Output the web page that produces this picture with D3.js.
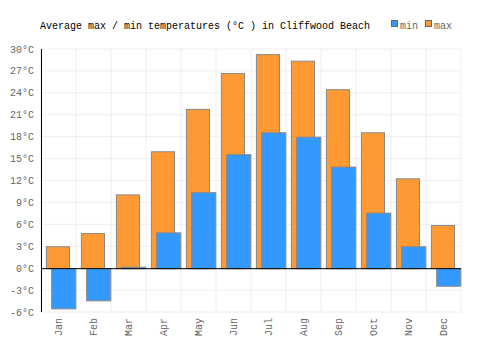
<!DOCTYPE html>
<html>
<head>
<meta charset="utf-8">
<script src="https://cdn.jsdelivr.net/npm/d3@7"></script>
<style>
  body { margin: 0; background: #fff; }
  text { font-family: "Liberation Mono", monospace; }
</style>
</head>
<body>
<div class="chart"></div>
<script>
const months = ['Jan','Feb','Mar','Apr','May','Jun','Jul','Aug','Sep','Oct','Nov','Dec']
const maxTemp = [3.0, 4.8, 10.1, 16.0, 21.8, 26.7, 29.3, 28.4, 24.5, 18.6, 12.3, 5.9]
const minTemp = [-5.5, -4.4, 0.2, 4.9, 10.4, 15.6, 18.6, 18.0, 13.9, 7.6, 3.0, -2.4]
const yTicks = [-6, -3, 0, 3, 6, 9, 12, 15, 18, 21, 24, 27, 30]

const W = 500, H = 350
const margin = { top: 49, left: 41, right: 39, bottom: 38 }
const width = W - margin.left - margin.right
const height = H - margin.top - margin.bottom

const svg = d3.select('.chart').append('svg')
  .attr('width', W).attr('height', H)

const g = svg.append('g')
  .attr('transform', `translate(${margin.left}, ${margin.top})`)

const x = d3.scaleBand().domain(months).range([0, width]).padding(0)
const y = d3.scaleLinear().domain([-6, 30]).range([height, 0])

// grid
g.append('g').selectAll('line.h')
  .data(yTicks)
  .join('line')
  .attr('x1', 0).attr('x2', width)
  .attr('y1', d => y(d)).attr('y2', d => y(d))
  .attr('stroke', '#eee')
const vLines = months.map(m => x(m)).concat([width])
g.append('g').selectAll('line.v')
  .data(vLines)
  .join('line')
  .attr('x1', d => d).attr('x2', d => d)
  .attr('y1', 0).attr('y2', height)
  .attr('stroke', '#eee')

// y axis labels
g.append('g').selectAll('text')
  .data(yTicks)
  .join('text')
  .attr('x', -7)
  .attr('y', d => y(d))
  .attr('dy', '0.35em')
  .attr('text-anchor', 'end')
  .attr('font-size', 10)
  .attr('fill', '#666')
  .text(d => d + '°C')

// x labels
g.append('g').selectAll('text')
  .data(months)
  .join('text')
  .attr('transform', d => `translate(${x(d) + x.bandwidth() / 2 + 3}, ${height + 6}) rotate(-90)`)
  .attr('text-anchor', 'end')
  .attr('font-size', 10)
  .attr('fill', '#666')
  .text(d => d)

const bw = x.bandwidth()
// max bars
g.append('g').selectAll('rect')
  .data(maxTemp)
  .join('rect')
  .attr('x', (d, i) => x(months[i]) + bw * 0.14 + 0.5)
  .attr('y', d => y(Math.max(0, d)) + 0.5)
  .attr('width', bw * 0.66)
  .attr('height', d => Math.abs(y(d) - y(0)))
  .attr('fill', '#ff9933')
  .attr('stroke', '#888')

// min bars
g.append('g').selectAll('rect')
  .data(minTemp)
  .join('rect')
  .attr('x', (d, i) => x(months[i]) + bw * 0.29 + 0.5)
  .attr('y', d => y(Math.max(0, d)) + 0.5)
  .attr('width', bw * 0.69)
  .attr('height', d => Math.abs(y(d) - y(0)))
  .attr('fill', '#3399ff')
  .attr('stroke', '#888')

// axis lines
g.append('line')
  .attr('x1', 0.5).attr('x2', 0.5)
  .attr('y1', 0).attr('y2', height)
  .attr('stroke', '#000')
g.append('line')
  .attr('x1', 0).attr('x2', width)
  .attr('y1', y(0) + 0.5).attr('y2', y(0) + 0.5)
  .attr('stroke', '#000')

// title
svg.append('text')
  .attr('x', 40).attr('y', 29)
  .attr('font-size', 10)
  .attr('fill', '#000')
  .text('Average max / min temperatures (°C ) in Cliffwood Beach')

// legend
const legend = [{ name: 'min', color: '#3399ff' }, { name: 'max', color: '#ff9933' }]
const lg = svg.append('g').attr('transform', 'translate(391, 20)')
lg.selectAll('rect')
  .data(legend)
  .join('rect')
  .attr('x', (d, i) => i * 34 + 0.5).attr('y', 0.5)
  .attr('width', 6).attr('height', 6)
  .attr('fill', d => d.color)
  .attr('stroke', '#666')
lg.selectAll('text')
  .data(legend)
  .join('text')
  .attr('x', (d, i) => i * 34 + 9).attr('y', 9)
  .attr('font-size', 10)
  .attr('fill', '#666')
  .text(d => d.name)
</script>
</body>
</html>
